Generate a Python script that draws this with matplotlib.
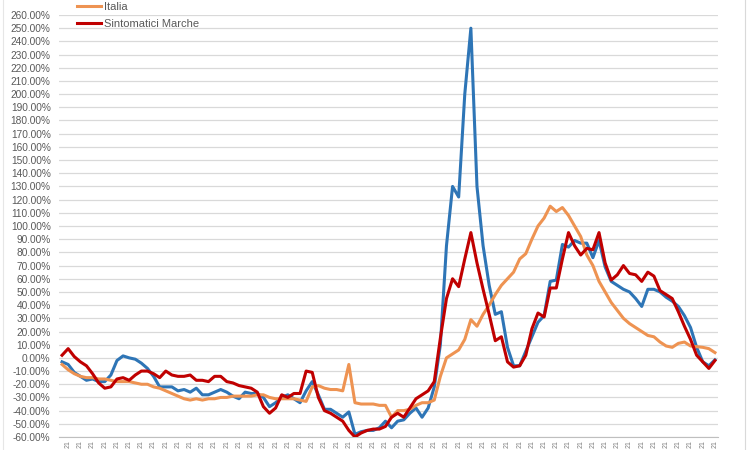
import numpy as np
import matplotlib.pyplot as plt
from matplotlib.lines import Line2D

plt.rcParams['font.family'] = ['Liberation Sans', 'DejaVu Sans']

# weekly % variation (108 points)
blue_vals = [-3, -5, -11, -14, -17, -16, -18, -18, -13, -2,
             1.5, 0, -1, -4, -8, -14, -22, -22, -22, -25,
             -24, -26, -23, -28, -28, -26, -24, -26, -29, -31,
             -26, -27, -27, -30, -37, -34, -30, -28, -31, -34,
             -25, -18, -28, -39, -39, -42, -45, -41, -58, -56,
             -55, -55, -53, -48, -53, -48, -47, -42, -38, -45,
             -38, -22, 10, 85, 130, 122, 200, 250, 130, 85,
             55, 33, 35, 8, -6, -6, 5, 16, 27, 32,
             58, 59, 86, 84, 89, 87, 87, 76, 89, 69,
             58, 55, 52, 50, 45, 39, 52, 52, 50, 46,
             43, 39, 32, 23, 8, -3, -6, -1.5]

italia = [-5, -9, -12, -14, -15, -15, -16, -16, -17, -18,
          -18, -18, -19, -20, -20, -22, -23, -25, -27, -29,
          -31, -32, -31, -32, -31, -31, -30, -30, -29, -29,
          -29, -29, -28, -28, -30, -31, -31, -31, -31, -32,
          -33, -22, -21, -23, -24, -24, -25, -5, -34, -35,
          -35, -35, -36, -36, -45, -40, -40, -39, -36, -34,
          -34, -32, -14, 0, 3, 6, 14, 29, 24, 33,
          40, 48, 55, 60, 65, 75, 79, 90, 100, 106,
          115, 111, 114, 108, 100, 92, 78, 70, 58, 50,
          42, 36, 30, 26, 23, 20, 17, 16, 12, 9,
          8, 11, 12, 9, 8.5, 8, 7, 4]

marche = [2, 7, 1, -3, -6, -12, -19, -23, -22, -16,
          -15, -17, -13, -10, -10, -12, -15, -10, -13, -14,
          -14, -13, -17, -17, -18, -14, -14, -18, -19, -21,
          -22, -23, -26, -37, -42, -38, -28, -30, -27, -27,
          -10, -11, -30, -40, -42, -45, -48, -55, -60, -57,
          -55, -54, -54, -52, -45, -42, -45, -38, -31, -28,
          -25, -18, 15, 45, 60, 54, 75, 95, 72, 52,
          33, 13, 16, -3, -7, -6, 2, 22, 34, 31,
          53, 53, 75, 95, 85, 78, 83, 82, 95, 72,
          59, 63, 70, 64, 63, 58, 65, 62, 51, 48,
          45, 35, 24, 14, 2, -3, -8, -2]

x_labels = ['21'] * 54
y_ticks = list(range(-60, 261, 10))

fig = plt.figure(figsize=(7.5, 4.5), dpi=100)
ax = fig.add_axes([59 / 750, 1 - 437 / 450, 659 / 750, 422 / 450])

x = np.arange(len(blue_vals))
ax.plot(x, blue_vals, color='#2E75B6', lw=2.2, zorder=3)
l_it, = ax.plot(x, italia, color='#EE9352', lw=2.2, zorder=4, label='Italia')
l_ma, = ax.plot(x, marche, color='#C00000', lw=2.2, zorder=5, label='Sintomatici Marche')

ax.set_xlim(-0.5, len(x) - 0.5)
ax.set_ylim(-60, 260)
ax.set_yticks(y_ticks)
ax.set_yticklabels([f'{v:.2f}%' for v in y_ticks], fontsize=7.3, color='#595959')
ax.set_xticks(x[1::2][:len(x_labels)])
ax.set_xticklabels(x_labels, rotation=90, fontsize=5, color='#7F7F7F')
ax.tick_params(axis='both', length=0)
ax.tick_params(axis='x', pad=2)
ax.tick_params(axis='y', pad=6)
ax.grid(axis='y', color='#D9D9D9', lw=0.9)
ax.set_axisbelow(True)
for s in ['top', 'right', 'left']:
    ax.spines[s].set_visible(False)
ax.spines['bottom'].set_color('#BFBFBF')

ax.legend(handles=[l_it, l_ma], loc='upper left', bbox_to_anchor=(0.012, 1.054),
          frameon=False, fontsize=8, handlelength=2.2, handletextpad=0.2,
          labelspacing=0.6, labelcolor='#595959')

# edges of the neighbouring panels
fig.add_artist(Line2D([745 / 750, 745 / 750], [0, 1], color='#D9D9D9', lw=0.8))
fig.add_artist(Line2D([3 / 750, 3 / 750], [0, 1], color='#E6E6E6', lw=0.8))

fig.savefig('out.png', dpi=100)
